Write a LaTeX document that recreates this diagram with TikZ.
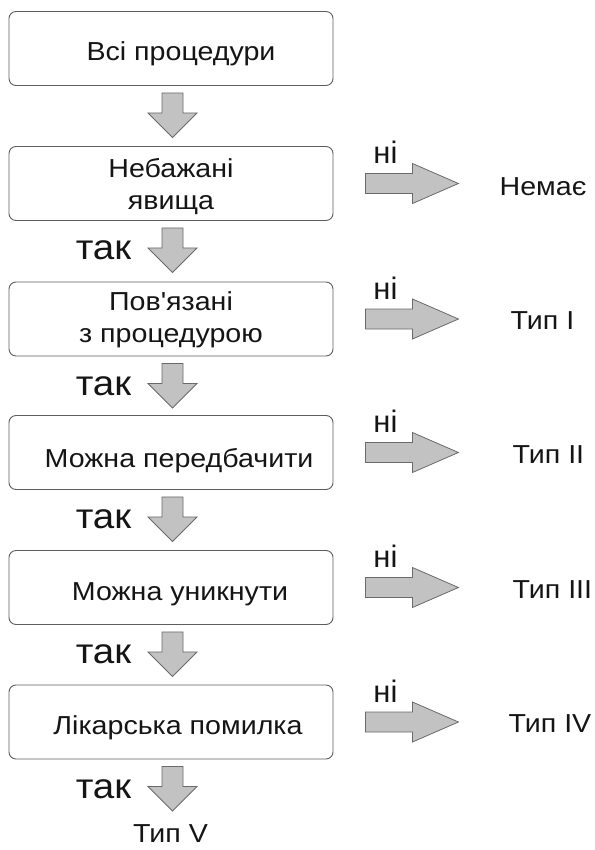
\documentclass[tikz,border=0pt]{standalone}
\usepackage{fontspec}
\setmainfont{Liberation Sans}[FakeStretch=1.1, Ligatures=TeXOff]
\newfontfamily\plainfont{Liberation Sans}
\newfontfamily\wideyes{Liberation Sans}[FakeStretch=1.1]
\usetikzlibrary{calc}
\definecolor{boxline}{HTML}{5E5E5E}
\definecolor{arrfill}{HTML}{C2C2C2}
\definecolor{arrline}{HTML}{6A6A6A}
\definecolor{txt}{HTML}{151515}
\tikzset{
  box/.style={draw=boxline, line width=0.9pt, rounded corners=7pt, minimum width=324pt, minimum height=74pt, inner sep=0pt, fill=white},
  boxtext/.style={text=txt, font=\fontsize{26}{32}\selectfont, align=center, inner sep=0pt},
  sidetext/.style={text=txt, font=\fontsize{26}{32}\selectfont, anchor=west, inner sep=0pt},
  yes/.style={text=txt, font=\wideyes\fontsize{35}{38}\selectfont, anchor=base, inner sep=0pt},
  no/.style={text=txt, font=\plainfont\fontsize{31}{36}\selectfont, inner sep=0pt},
  blockarr/.style={fill=arrfill, draw=arrline, line width=0.8pt, line join=miter}
}
\newcommand\DownBlock[1]{\draw[blockarr] (#1) ++(-10.5,0) -- ++(21,0) -- ++(0,20) -- ++(14,0) -- ++(-24.5,24.5) -- ++(-24.5,-24.5) -- ++(14,0) -- cycle;}
\newcommand\RightBlock[1]{\draw[blockarr] (#1) ++(0,-10) -- ++(47,0) -- ++(0,-10) -- ++(46,20) -- ++(-46,20) -- ++(0,-10) -- ++(-47,0) -- cycle;}
\begin{document}
\begin{tikzpicture}[x=1pt,y=-1pt]
\useasboundingbox (0,0) rectangle (594,850);
% boxes
\node[box] (b1) at (171,48.5) {};
\node[box] (b2) at (171,183.5) {};
\node[box] (b3) at (171,319) {};
\node[box] (b4) at (171,452.5) {};
\node[box] (b5) at (171,587.5) {};
\node[box] (b6) at (171,722) {};
% box texts
\node[boxtext] (t1) at ($(b1.center)+(10,5)$) {Всі процедури};
\node[boxtext] (t2) at ($(b2.center)+(0,3)$) {Небажані\\явища};
\node[boxtext] (t3) at ($(b3.center)+(0,1)$) {Пов'язані\\з процедурою};
\node[boxtext] (t4) at ($(b4.center)+(8,8)$) {Можна передбачити};
\node[boxtext] (t5) at ($(b5.center)+(9,7)$) {Можна уникнути};
\node[boxtext] (t6) at ($(b6.center)+(7,6)$) {Лікарська помилка};
% down arrows
\foreach \b in {b1,b2,b3,b4,b5,b6}{
  \coordinate (\b d) at ($(\b.south)+(1.5,7)$);
  \DownBlock{\b d}
}
% так labels
\foreach \b/\n in {b2/y2,b3/y3,b4/y4,b5/y5,b6/y6}{
  \node[yes] (\n) at ($(\b d)+(-69,32)$) {так};
}
% right arrows
\foreach \b/\n in {b2/r2,b3/r3,b4/r4,b5/r5,b6/r6}{
  \coordinate (\n) at ($(\b.east)+(32,0)$);
  \RightBlock{\n}
  \node[no] (\n n) at ($(\n)+(20,-31)$) {ні};
}
% outcomes
\node[sidetext] (o2) at ($(r2)+(134,3)$) {Немає};
\node[sidetext] (o3) at ($(r3)+(145,2)$) {Тип I};
\node[sidetext] (o4) at ($(r4)+(147,2)$) {Тип II};
\node[sidetext] (o5) at ($(r5)+(147,2)$) {Тип III};
\node[sidetext] (o6) at ($(r6)+(143,2)$) {Тип IV};
\node[boxtext, anchor=base] (o7) at ($(b6d)+(-2,76)$) {Тип V};
\end{tikzpicture}
\end{document}
